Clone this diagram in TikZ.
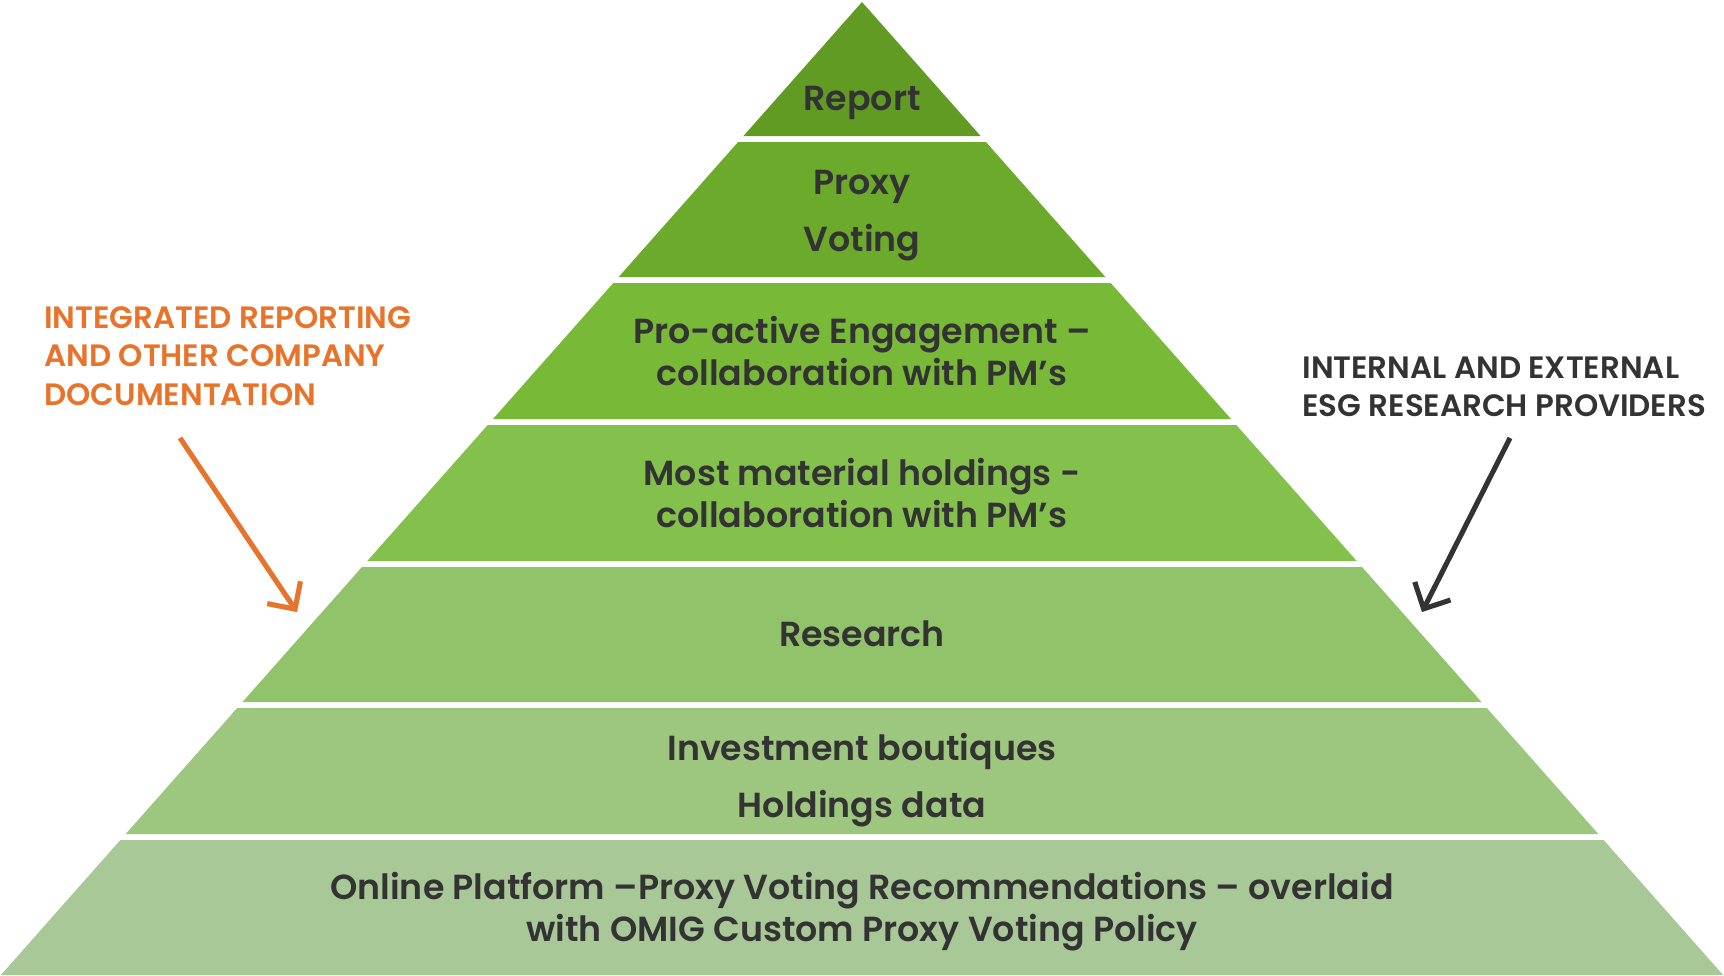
\documentclass[tikz,border=0pt]{standalone}
\usepackage{fontspec}
\setmainfont{Poppins}[BoldFont={Poppins SemiBold}]
\usepackage{tikz}
\usetikzlibrary{positioning, calc, arrows.meta}
\definecolor{tierA}{RGB}{98,155,35}
\definecolor{tierB}{RGB}{107,170,42}
\definecolor{tierC}{RGB}{120,185,55}
\definecolor{tierD}{RGB}{131,193,76}
\definecolor{tierE}{RGB}{145,195,106}
\definecolor{tierF}{RGB}{157,198,126}
\definecolor{tierG}{RGB}{169,200,152}
\definecolor{inkgray}{RGB}{51,51,51}
\definecolor{docorange}{RGB}{232,115,42}
\tikzset{
    tiertext/.style = {text=inkgray, align=center, inner sep=0pt,
        font=\bfseries\fontsize{17.4}{21}\selectfont},
    tallline/.style = {font=\bfseries\fontsize{17.4}{28.5}\selectfont},
    sidetext/.style = {align=left, inner sep=0pt, anchor=north west,
        font=\bfseries\fontsize{15.45}{19.25}\selectfont},
    pointer/.style = {line width=2.5pt, -{Straight Barb[length=10pt, width=20pt, line width=2.5pt]}},
    pointershade/.style = {pointer, draw=black, opacity=0.18, shift={(2.5,2.5)}},
}

\begin{document}
\begin{tikzpicture}[x=0.5pt, y=-0.5pt]
        \useasboundingbox (0,0) rectangle (1724,975);
        % pyramid tiers: top/bottom in px, sides follow the apex slope
        \foreach \ytop/\ybot/\col in {2/136/tierA, 142/277/tierB, 283/419/tierC,
                425/561/tierD, 567/702/tierE, 708/834/tierF, 840/975/tierG} {
            \fill[\col] ({862-0.885*(\ytop-2)},\ytop) -- ({862+0.885*(\ytop-2)},\ytop)
                -- ({862+0.885*(\ybot-2)},\ybot) -- ({862-0.885*(\ybot-2)},\ybot) -- cycle;
        }
        \node [tiertext] (report) at (862,103) {Report};
        \node [tiertext, tallline] (proxy) at (862,216) {Proxy\\Voting};
        \node [tiertext] (engage) at (862,351) {Pro-active Engagement --\\collaboration with PM’s};
        \node [tiertext] (holdings) at (862,493) {Most material holdings -\\collaboration with PM’s};
        \node [tiertext] (research) at (862,634) {Research};
        \node [tiertext, tallline] (boutiques) at (862,780) {Investment boutiques\\Holdings data};
        \node [tiertext] (platform) at (862,912) {Online Platform --Proxy Voting Recommendations -- overlaid\\with OMIG Custom Proxy Voting Policy};

        % side sources
        \node [sidetext, text=docorange] (docs) at (44,306) {INTEGRATED REPORTING\\AND OTHER COMPANY\\DOCUMENTATION};
        \node [sidetext, text=inkgray] (providers) at (1302,356) {INTERNAL AND EXTERNAL\\ESG RESEARCH PROVIDERS};
        \coordinate (docfrom) at (180,438);
        \coordinate (docto) at (297,612);
        \coordinate (esgfrom) at (1510,438);
        \coordinate (esgto) at (1422,612);
        \draw [pointershade] (docfrom) -- (docto);
        \draw [pointer, docorange] (docfrom) -- (docto);
        \draw [pointershade] (esgfrom) -- (esgto);
        \draw [pointer, inkgray] (esgfrom) -- (esgto);
\end{tikzpicture}
\end{document}
